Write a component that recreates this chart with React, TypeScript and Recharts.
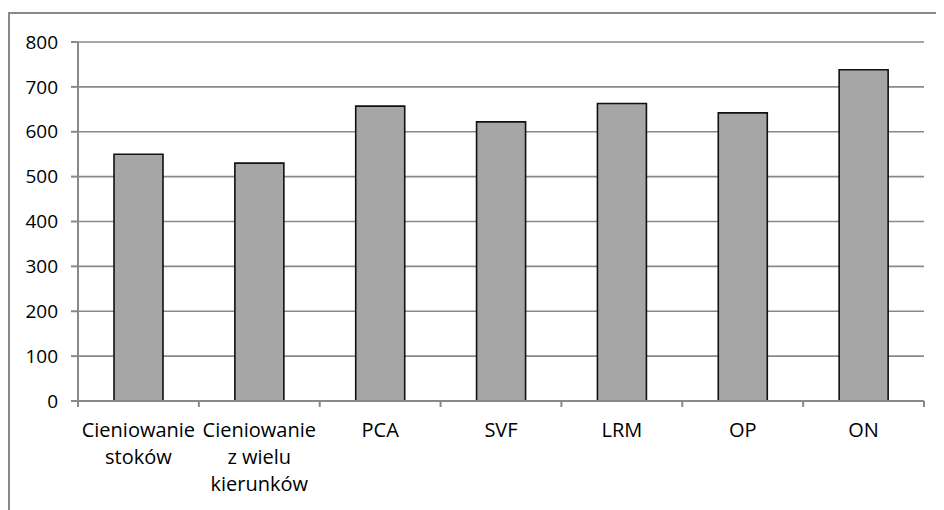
import React from "react";
import { BarChart, Bar, XAxis, YAxis, CartesianGrid } from "recharts";

// "\n" marks where the label wraps in the original
const categories = [
  "Cieniowanie\nstoków",
  "Cieniowanie\nz wielu\nkierunków",
  "PCA",
  "SVF",
  "LRM",
  "OP",
  "ON",
];
const values = [550, 530, 657, 622, 663, 642, 738];
const yTicks = [0, 100, 200, 300, 400, 500, 600, 700, 800];

const data = categories.map((name, i) => ({ name, value: values[i] }));

const W = 936;
const H = 502;
const margin = { top: 34, right: 20, bottom: 0, left: 0 };
const yAxisW = 70;
const band = (W - margin.right - yAxisW) / categories.length;
const gray = "#898989";
const font = "'Open Sans', sans-serif";

const CategoryTick = (props: any) => {
  const { x, y, payload, index } = props;
  const half = payload && payload.offset ? payload.offset : band / 2;
  const lines = String(payload.value).split("\n");
  return (
    <g>
      <line x1={x - half} y1={y - 8} x2={x - half} y2={y - 2} stroke={gray} strokeWidth={2} />
      {index === categories.length - 1 && (
        <line x1={x + half} y1={y - 8} x2={x + half} y2={y - 2} stroke={gray} strokeWidth={2} />
      )}
      <text
        x={x}
        y={y + 28}
        textAnchor="middle"
        style={{ fontFamily: font, fontSize: 20, fill: "#000" }}
      >
        {lines.map((l, i) => (
          <tspan key={i} x={x} dy={i === 0 ? 0 : 27}>
            {l}
          </tspan>
        ))}
      </text>
    </g>
  );
};

export default function App() {
  return (
    <div style={{ position: "relative", width: W, height: H, overflow: "hidden" }}>
      <div
        style={{
          position: "absolute",
          left: 0,
          top: 4,
          width: 2000,
          height: 2000,
          borderLeft: `2px solid ${gray}`,
          borderTop: `2px solid ${gray}`,
        }}
      />
      <div style={{ position: "absolute", left: 0, top: 0 }}>
        <BarChart width={W} height={H} data={data} margin={margin}>
          <CartesianGrid vertical={false} stroke={gray} strokeWidth={1.6} />
          <XAxis
            dataKey="name"
            interval={0}
            height={109}
            axisLine={{ stroke: gray, strokeWidth: 2 }}
            tickLine={false}
            tick={<CategoryTick />}
          />
          <YAxis
            width={yAxisW}
            domain={[0, 800]}
            ticks={yTicks}
            interval={0}
            axisLine={{ stroke: gray, strokeWidth: 2 }}
            tickLine={{ stroke: gray, strokeWidth: 2 }}
            tickSize={7}
            tickMargin={13}
            tick={{ fontFamily: font, fontSize: 19, fill: "#000" }}
          />
          <Bar
            dataKey="value"
            fill="#a6a6a6"
            stroke="#111"
            strokeWidth={1.6}
            barSize={49}
            isAnimationActive={false}
          />
        </BarChart>
      </div>
    </div>
  );
}
